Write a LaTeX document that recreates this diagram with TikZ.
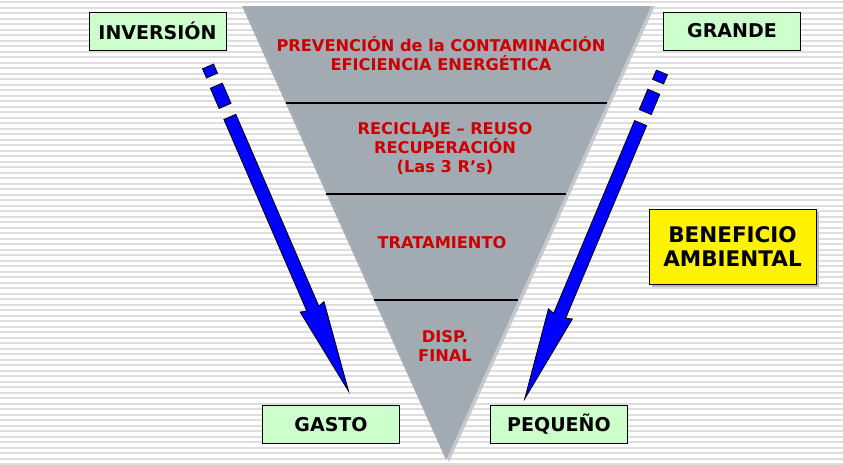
\documentclass[tikz,border=0pt]{standalone}
\usepackage{fontspec}
\setmainfont{DejaVu Sans}
\usetikzlibrary{calc,shadows}

\definecolor{levelgray}{RGB}{160,168,177}
\definecolor{levelshade}{RGB}{192,197,202}
\definecolor{levelred}{RGB}{204,0,0}
\definecolor{boxgreen}{RGB}{204,255,204}
\definecolor{stripegray}{RGB}{222,222,222}

% dashed block arrow, drawn along the local x axis
\newcommand{\blockarrow}[2]{%
  \begin{scope}[shift={(#1)}, rotate=#2]
    \draw[arrowpart] (-5,-6) rectangle (5,6);
    \draw[arrowpart] (16,-6.5) rectangle (38,6.5);
    \draw[arrowpart] (50,-6.5) -- (259,-6.5) -- (257,-13) -- (349,0)
                     -- (257,13) -- (259,6.5) -- (50,6.5) -- cycle;
  \end{scope}}

\begin{document}
\begin{tikzpicture}[
    x=1pt, y=-1pt,
    stripe/.style={draw=stripegray, line width=2pt},
    level/.style={draw=black, line width=1.1pt},
    leveltext/.style={text=levelred, font=\fontsize{16.2}{19}\selectfont\bfseries, align=center},
    labelbox/.style={draw=black, fill=boxgreen, line width=0.9pt, minimum width=137pt,
        minimum height=38pt, font=\fontsize{19}{22}\selectfont\bfseries},
    benefitbox/.style={draw=black, fill=yellow, line width=0.9pt, minimum width=167pt,
        minimum height=75pt, align=center, font=\fontsize{21.5}{24}\selectfont\bfseries,
        drop shadow={shadow xshift=3pt, shadow yshift=-3pt, fill=gray!55, opacity=1}},
    arrowpart/.style={draw=black, fill=blue, line width=0.8pt, line join=miter}
]
\useasboundingbox (0,0) rectangle (843,464);

% ---------------------------------------------------------------- Background
\fill[white] (0,0) rectangle (843,464);
\foreach \y in {2,7.5,...,464}
    \draw[stripe] (0,\y) -- (843,\y);

% ---------------------------------------------------------------- Pyramid
\coordinate (topleft)  at (242,6);
\coordinate (topright) at (651,6);
\coordinate (apex)     at (446,460);
\fill[levelshade, fill opacity=0.9] ($(topleft)+(4,0)$) -- ($(topright)+(4,0)$) -- ($(apex)+(3,2)$) -- cycle;
\fill[levelgray, fill opacity=0.93] (topleft) -- (topright) -- (apex) -- cycle;

\draw[level] ($(topleft)!0.2137!(apex)$) -- ($(topright)!0.2137!(apex)$);
\draw[level] ($(topleft)!0.414!(apex)$)  -- ($(topright)!0.414!(apex)$);
\draw[level] ($(topleft)!0.6476!(apex)$) -- ($(topright)!0.6476!(apex)$);

\node[leveltext] (prevencion)  at (441,54)  {PREVENCIÓN de la CONTAMINACIÓN\\EFICIENCIA ENERGÉTICA};
\node[leveltext] (reciclaje)   at (445,149) {RECICLAJE – REUSO\\RECUPERACIÓN\\(Las 3 R’s)};
\node[leveltext] (tratamiento) at (442,243) {TRATAMIENTO};
\node[leveltext] (disposicion) at (445,346) {DISP.\\FINAL};

% ---------------------------------------------------------------- Boxes
\node[labelbox] (inversion) at (157.5,31)  {INVERSIÓN};
\node[labelbox] (grande)    at (732,31)    {GRANDE};
\node[labelbox] (gasto)     at (331,424.5) {GASTO};
\node[labelbox] (pequeno)   at (559,424.5) {PEQUEÑO};
\node[benefitbox] (beneficio) at (732.5,246.5) {BENEFICIO\\AMBIENTAL};

% ---------------------------------------------------------------- Arrows
\coordinate (costarrow)    at (210,71);
\coordinate (benefitarrow) at (660,77);
\blockarrow{costarrow}{-66.6}
\blockarrow{benefitarrow}{-112.8}

\end{tikzpicture}
\end{document}
